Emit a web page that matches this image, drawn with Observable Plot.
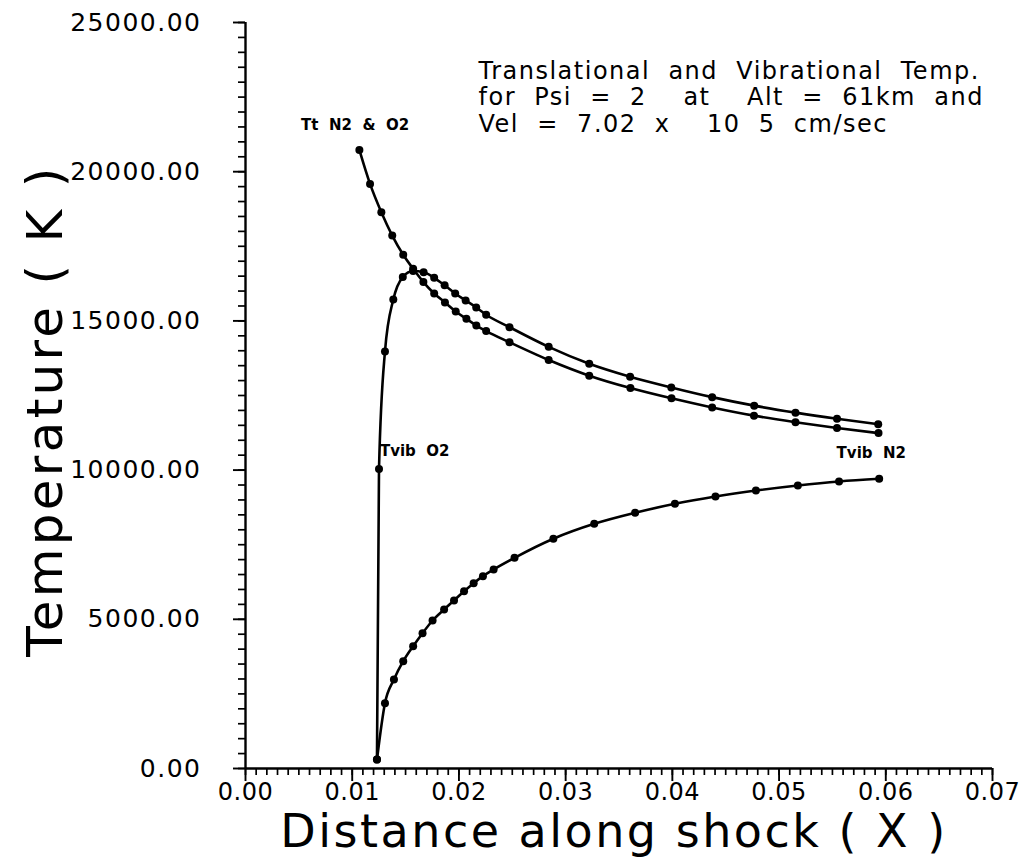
<!DOCTYPE html>
<html>
<head>
<meta charset="utf-8">
<script src="https://cdn.jsdelivr.net/npm/d3@7"></script>
<script src="https://cdn.jsdelivr.net/npm/@observablehq/plot@0.6"></script>
<style>
  html, body { margin: 0; padding: 0; background: #fff; }
  #chart svg text { white-space: pre; }
  #chart g[aria-label="y-axis tick label"] text { letter-spacing: 1.5px; }
  #chart g[aria-label="x-axis tick label"] text { letter-spacing: 0.5px; }
</style>
</head>
<body>
<div id="chart"></div>
<script>
// Translational temperature (N2 & O2)
const ttX = [0.01067, 0.01167, 0.01273, 0.01375, 0.01478, 0.01571, 0.01667, 0.01768, 0.01869, 0.01970, 0.02070, 0.02163, 0.02255, 0.02474, 0.02841, 0.03221, 0.03607, 0.03992, 0.04373, 0.04765, 0.05154, 0.05543, 0.05932];
const ttY = [20730, 19590, 18640, 17860, 17215, 16745, 16300, 15920, 15620, 15315, 15070, 14845, 14660, 14285, 13690, 13165, 12750, 12405, 12100, 11825, 11605, 11410, 11240];
// Vibrational temperature O2
const o2X = [0.01232, 0.01251, 0.01307, 0.01385, 0.01474, 0.01571, 0.01669, 0.01768, 0.01866, 0.01965, 0.02063, 0.02162, 0.02255, 0.02474, 0.02841, 0.03221, 0.03604, 0.03990, 0.04373, 0.04767, 0.05154, 0.05543, 0.05929];
const o2Y = [300, 10040, 13975, 15715, 16470, 16670, 16630, 16445, 16195, 15920, 15685, 15450, 15205, 14790, 14130, 13565, 13130, 12770, 12445, 12160, 11925, 11720, 11540];
// Vibrational temperature N2
const n2X = [0.01232, 0.01307, 0.01391, 0.01478, 0.01571, 0.01659, 0.01753, 0.01861, 0.01954, 0.02048, 0.02138, 0.02225, 0.02325, 0.02521, 0.02885, 0.03268, 0.03651, 0.04024, 0.04404, 0.04783, 0.05176, 0.05562, 0.05938];
const n2Y = [300, 2190, 2985, 3595, 4100, 4535, 4960, 5330, 5630, 5940, 6210, 6445, 6670, 7060, 7700, 8200, 8570, 8870, 9115, 9315, 9485, 9620, 9710];

const seriesNames = ["Tt  N2  &  O2", "Tvib  O2", "Tvib  N2"];
const xTickValues = [0, 0.01, 0.02, 0.03, 0.04, 0.05, 0.06, 0.07];
const yTickValues = [0, 5000, 10000, 15000, 20000, 25000];
const titleLines = [
  "Translational  and  Vibrational  Temp.",
  "for  Psi  =  2    at    Alt  =  61km  and",
  "Vel  =  7.02  x    10  5  cm/sec"
];
const xTitle = "Distance along shock ( X )";
const yTitle = "Temperature ( K )";

const rows = [];
[[ttX, ttY], [o2X, o2Y], [n2X, n2Y]].forEach(([xs, ys], k) => {
  xs.forEach((x, i) => rows.push({series: seriesNames[k], x, y: ys[i]}));
});

const xMinor = d3.range(71).map(i => i / 1000);
const yMinor = d3.range(51).map(i => i * 500);

const font = "'DejaVu Sans', sans-serif";

const chart = Plot.plot({
  width: 1020,
  height: 857,
  marginLeft: 245,
  marginRight: 28,
  marginTop: 22,
  marginBottom: 89,
  style: {fontFamily: font, fontSize: "25px", color: "black", background: "white"},
  x: {domain: [0, 0.07]},
  y: {domain: [0, 25000]},
  marks: [
    Plot.axisX(xMinor, {tickSize: 7, fill: "none", label: null, strokeWidth: 1.7}),
    Plot.axisX(xTickValues, {tickSize: 13, tickPadding: 1, tickFormat: d3.format(".2f"), label: null, strokeWidth: 1.9, fontSize: 24}),
    Plot.axisY(yMinor, {tickSize: 7, fill: "none", label: null, strokeWidth: 1.7}),
    Plot.axisY(yTickValues, {tickSize: 12, tickPadding: 32, tickFormat: d3.format(".2f"), label: null, strokeWidth: 1.9, fontSize: 25}),
    Plot.ruleX([0], {strokeWidth: 2.4}),
    Plot.ruleY([0], {strokeWidth: 2.4}),
    Plot.line(rows, {x: "x", y: "y", z: "series", curve: "monotone-x", stroke: "black", strokeWidth: 2.6}),
    Plot.dot(rows, {x: "x", y: "y", r: 4, fill: "black", stroke: null}),
    Plot.text([seriesNames[0]], {x: 0.01027, y: 21550, textAnchor: "middle", lineAnchor: "middle", fontSize: 15, fontWeight: "bold"}),
    Plot.text([seriesNames[1]], {x: 0.0126, y: 10650, textAnchor: "start", lineAnchor: "middle", fontSize: 15, fontWeight: "bold"}),
    Plot.text([seriesNames[2]], {x: 0.05864, y: 10560, textAnchor: "middle", lineAnchor: "middle", fontSize: 15, fontWeight: "bold"}),
    Plot.text([titleLines.join("\n")], {frameAnchor: "top-left", dx: 233, dy: 37, textAnchor: "start", lineAnchor: "top", fontSize: 24, lineHeight: 1.12}),
    Plot.text([yTitle], {frameAnchor: "left", dx: -200, dy: 15, rotate: -90, textAnchor: "middle", lineAnchor: "middle", fontSize: 50}),
    Plot.text([xTitle], {frameAnchor: "bottom", dx: -5, dy: 64, textAnchor: "middle", lineAnchor: "middle", fontSize: 46})
  ]
});
document.getElementById("chart").appendChild(chart);

// letter spacing tweaks, matched by text content
const spacing = new Map([[yTitle, "3.3px"], [xTitle, "2.5px"]]);
d3.select(chart).selectAll("text").each(function() {
  const t = this.textContent;
  if (spacing.has(t)) this.style.letterSpacing = spacing.get(t);
  if (t.startsWith(titleLines[0])) this.style.letterSpacing = "1.5px";
});
</script>
</body>
</html>
